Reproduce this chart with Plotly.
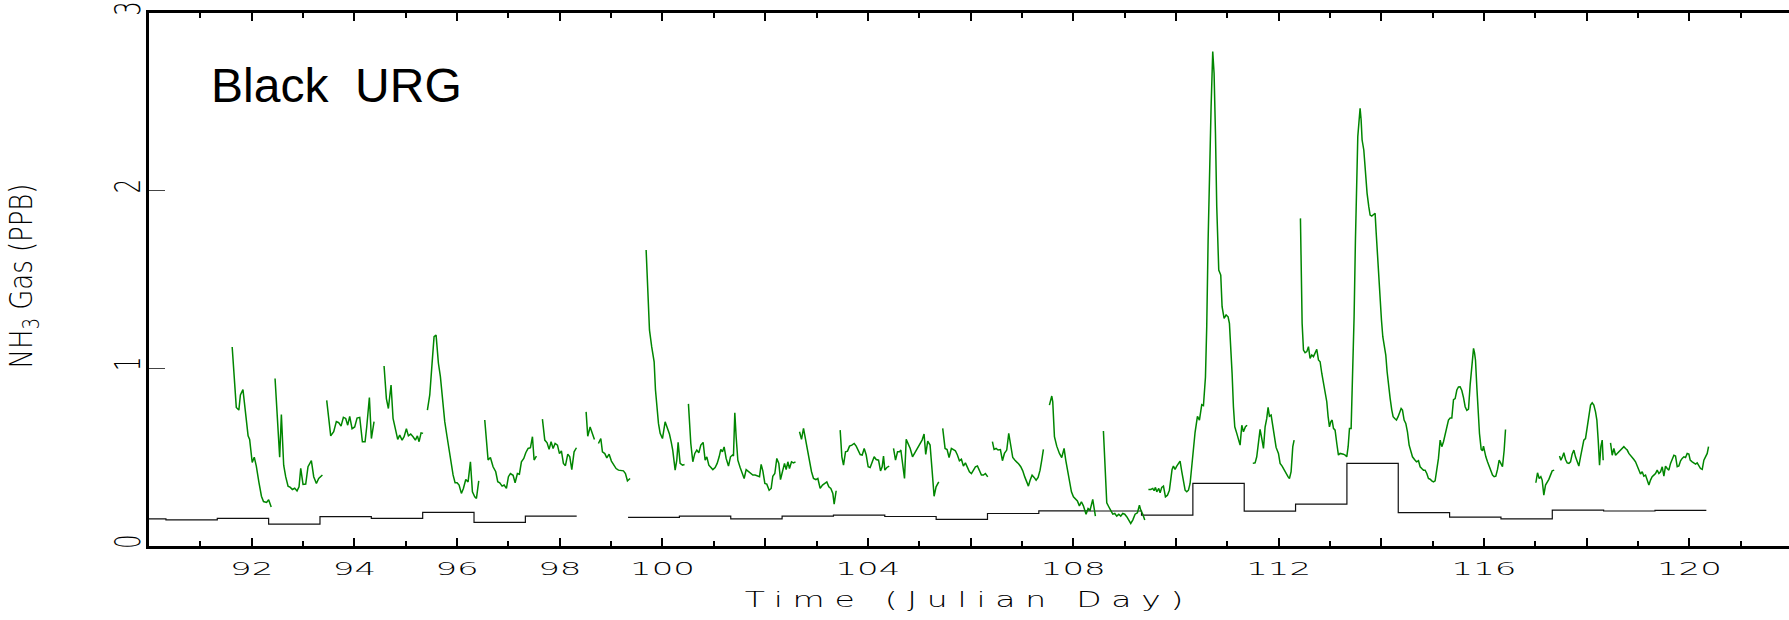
import plotly.graph_objects as go

# ---------------- data ----------------
# Hourly NH3 gas (green); None separates the gaps between record pieces
nh3_day = [
    91.62, 91.70, 91.75, 91.78, 91.83, 91.88, 91.93, 91.96, 92.01, 92.05, 92.09, 92.14, 92.19, 92.23, 92.29, 92.33, 92.38, None,
    92.455, 92.545, 92.578, 92.623, 92.662, 92.708, 92.753, 92.792, 92.838, 92.883, 92.922, 92.955, 93.0, 93.052, 93.097, 93.162, 93.208, 93.26, 93.305, 93.377, None,
    93.461, 93.539, 93.597, 93.649, 93.695, 93.740, 93.786, 93.831, 93.870, 93.909, 93.955, 94.006, 94.052, 94.104, 94.156, 94.208, 94.240, 94.292, 94.331, 94.383, None,
    94.578, 94.623, 94.662, 94.714, 94.753, 94.799, 94.844, 94.883, 94.929, 94.968, 95.013, 95.052, 95.097, 95.143, 95.188, 95.227, 95.26, 95.299, 95.338, None,
    95.422, 95.468, 95.513, 95.552, 95.591, 95.636, 95.675, 95.714, 95.760, 95.805, 95.844, 95.883, 95.922, 95.961, 96.0, 96.039, 96.084, 96.123, 96.169, 96.214, 96.260, 96.299, 96.344, 96.377, 96.422, None,
    96.539, 96.604, 96.649, 96.701, 96.753, 96.792, 96.831, 96.877, 96.916, 96.961, 97.0, 97.039, 97.091, 97.13, 97.175, 97.214, 97.253, 97.299, 97.338, 97.383, 97.429, 97.468, 97.50, 97.545, None,
    97.662, 97.708, 97.753, 97.792, 97.831, 97.870, 97.909, 97.955, 97.994, 98.032, 98.071, 98.110, 98.156, 98.195, 98.234, 98.279, 98.325, None,
    98.513, 98.545, 98.591, 98.636, 98.675, None,
    98.753, 98.799, 98.831, 98.877, 98.916, 98.961, 99.006, 99.052, 99.097, 99.143, 99.188, 99.240, 99.279, 99.318, 99.370, None,
    99.682, 99.714, 99.747, 99.79, 99.838, 99.864, 99.89, 99.922, 99.955, 100.0, 100.052, 100.097, 100.136, 100.169, 100.20, 100.247, 100.279, 100.305, 100.344, 100.39, 100.43, None,
    100.506, 100.552, 100.591, 100.63, 100.669, 100.708, 100.747, 100.792, 100.831, 100.864, 100.903, 100.942, 100.981, 101.026, 101.065, 101.104, 101.136, 101.169, 101.201, 101.24,
    101.286, 101.325, 101.364, 101.383, 101.409, 101.435, 101.468, 101.513, 101.552, 101.591, 101.63, 101.675, 101.721, 101.76, 101.805, 101.851, 101.89, 101.922, 101.955, 101.994,
    102.032, 102.078, 102.117, 102.149, 102.188, 102.227, 102.266, 102.299, 102.338, 102.377, 102.409, 102.442, 102.474, 102.513, 102.552, 102.591, None,
    102.669, 102.708, 102.747, 102.786, 102.825, 102.864, 102.903, 102.942, 102.987, 103.026, 103.071, 103.117, 103.156, 103.201, 103.24, 103.279, 103.318, 103.344, 103.383, None,
    103.461, 103.494, 103.526, 103.565, 103.604, 103.643, 103.688, 103.734, 103.773, 103.812, 103.851, 103.89, 103.929, 103.968, 104.006, 104.045, 104.084, 104.123, 104.162, 104.208,
    104.247, 104.279, 104.305, 104.331, 104.37, 104.416, None,
    104.5, 104.539, 104.578, 104.617, 104.643, 104.675, 104.714, 104.747, 104.786, 104.825, 104.87, 104.909, 104.955, 104.994, 105.032, 105.056, 105.095, 105.127, 105.166, 105.212,
    105.251, 105.29, 105.329, 105.381, None,
    105.458, 105.504, 105.543, 105.582, 105.627, 105.666, 105.705, 105.744, 105.783, 105.822, 105.861, 105.9, 105.939, 105.978, 106.017, 106.056, 106.095, 106.134, 106.173, 106.212,
    106.251, 106.29, 106.335, None,
    106.426, 106.458, 106.497, 106.536, 106.582, 106.621, 106.66, 106.705, 106.744, 106.783, 106.822, 106.861, 106.9, 106.939, 106.978, 107.017, 107.056, 107.095, 107.127, 107.16,
    107.199, 107.238, 107.277, 107.316, 107.354, 107.387, 107.419, None,
    107.536, 107.582, 107.601, 107.634, 107.679, 107.731, 107.776, 107.822, 107.854, 107.893, 107.926, 107.965, 108.004, 108.043, 108.081, 108.12, 108.159, 108.198, 108.25, 108.289,
    108.328, 108.38, 108.406, 108.432, None,
    108.588, 108.62, 108.653, 108.692, 108.731, 108.77, 108.809, 108.848, 108.887, 108.925, 108.964, 109.003, 109.042, 109.081, 109.12, 109.159, 109.205, 109.25, 109.289, 109.315,
    109.354, 109.393, None,
    109.464, 109.510, 109.549, 109.575, 109.601, 109.627, 109.666, 109.692, 109.724, 109.757, 109.796, 109.835, 109.873, 109.899, 109.925, 109.951, 109.983, 110.016, 110.049, 110.081,
    110.114, 110.146, 110.179, 110.211, 110.244, 110.276, 110.308, 110.341, 110.373, 110.419, 110.458, 110.503, 110.536, 110.575, 110.60, 110.627, 110.653, 110.685, 110.717, 110.743,
    110.77, 110.795, 110.834, 110.873, 110.899, 110.938, 110.977, 111.016, 111.042, 111.068, 111.094, 111.12, 111.146, 111.185, 111.218, 111.25, 111.283, 111.315, 111.354, 111.386, None,
    111.497, 111.542, 111.574, 111.607, 111.639, 111.672, 111.705, 111.737, 111.769, 111.795, 111.821, 111.854, 111.886, 111.919, 111.951, 111.997, 112.029, 112.068, 112.107, 112.146,
    112.185, 112.211, 112.243, 112.276, 112.302, None,
    112.425, 112.445, 112.458, 112.484, 112.516, 112.549, 112.581, 112.613, 112.646, 112.678, 112.711, 112.743, 112.776, 112.808, 112.841, 112.873, 112.906, 112.938, 112.964, 112.99,
    113.016, 113.042, 113.068, 113.1, 113.133, 113.165, 113.198, 113.23, 113.262, 113.295, 113.327, 113.354, 113.38, 113.412, 113.444, 113.47, 113.496, 113.522, 113.542, 113.568,
    113.587, 113.607, 113.626, 113.659, 113.691, 113.723, 113.756, 113.782, 113.814, 113.847, 113.879, 113.899, 113.925, 113.951, 113.977, 114.003, 114.029, 114.061, 114.087, 114.113,
    114.139, 114.172, 114.204, 114.23, 114.262, 114.295, 114.327, 114.354, 114.386, 114.412, 114.444, 114.477, 114.509, 114.542, 114.574, 114.607, 114.646, 114.685, 114.724, 114.756,
    114.788, 114.821, 114.853, 114.886, 114.918, 114.951, 114.983, 115.016, 115.048, 115.08, 115.113, 115.146, 115.178, 115.211, 115.243, 115.276, 115.308, 115.341, 115.373, 115.406,
    115.438, 115.471, 115.503, 115.535, 115.568, 115.601, 115.633, 115.666, 115.698, 115.731, 115.757, 115.783, 115.796, 115.815, 115.834, 115.86, 115.886, 115.912, 115.945, 115.971,
    115.99, 116.01, 116.036, 116.068, 116.101, 116.133, 116.166, 116.198, 116.23, 116.263, 116.295, 116.328, 116.36, 116.393, 116.419, None,
    117.01, 117.042, 117.075, 117.107, 117.133, 117.165, 117.198, 117.23, 117.263, 117.295, 117.328, 117.367, None,
    117.471, 117.497, 117.529, 117.555, 117.588, 117.62, 117.653, 117.685, 117.717, 117.75, 117.782, 117.815, 117.847, 117.88, 117.912, 117.944, 117.977, 118.01, 118.042, 118.075,
    118.107, 118.139, 118.172, 118.198, 118.224, 118.25, 118.276, 118.302, 118.321, None,
    118.464, 118.497, 118.529, 118.562, 118.594, 118.627, 118.659, 118.692, 118.724, 118.757, 118.789, 118.821, 118.854, 118.886, 118.919, 118.951, 118.984, 119.016, 119.048, 119.081,
    119.113, 119.146, 119.178, 119.211, 119.243, 119.275, 119.308, 119.34, 119.373, 119.406, 119.438, 119.471, 119.503, 119.535, 119.568, 119.6, 119.633, 119.665, 119.698, 119.73,
    119.763, 119.795, 119.828, 119.86, 119.892, 119.925, 119.957, 119.99, 120.016, 120.055, 120.087, 120.12, 120.152, 120.185, 120.217, 120.25, 120.282, 120.314, 120.347, 120.373,
]
nh3_ppb = [
    1.12, 0.78, 0.765, 0.85, 0.88, 0.73, 0.62, 0.60, 0.47, 0.50, 0.45, 0.36, 0.28, 0.25, 0.245, 0.26, 0.22, None,
    0.943, 0.50, 0.74, 0.455, 0.39, 0.337, 0.33, 0.318, 0.325, 0.31, 0.333, 0.437, 0.347, 0.349, 0.446, 0.48, 0.39, 0.352, 0.38, 0.40, None,
    0.82, 0.62, 0.643, 0.70, 0.694, 0.675, 0.724, 0.718, 0.68, 0.73, 0.66, 0.67, 0.72, 0.724, 0.587, 0.587, 0.67, 0.836, 0.605, 0.70, None,
    1.013, 0.83, 0.774, 0.906, 0.718, 0.66, 0.60, 0.624, 0.596, 0.615, 0.66, 0.62, 0.63, 0.615, 0.596, 0.62, 0.587, 0.637, 0.634, None,
    0.765, 0.85, 1.028, 1.178, 1.187, 1.03, 0.953, 0.82, 0.70, 0.615, 0.54, 0.455, 0.40, 0.356, 0.356, 0.343, 0.296, 0.324, 0.374, 0.361, 0.474, 0.305, 0.277, 0.268, 0.367, None,
    0.709, 0.484, 0.498, 0.446, 0.418, 0.362, 0.356, 0.337, 0.343, 0.324, 0.39, 0.408, 0.398, 0.356, 0.408, 0.404, 0.474, 0.493, 0.525, 0.549, 0.553, 0.615, 0.484, 0.506, None,
    0.714, 0.596, 0.581, 0.544, 0.587, 0.549, 0.577, 0.568, 0.52, 0.535, 0.465, 0.452, 0.517, 0.502, 0.43, 0.53, 0.553, None,
    0.755, 0.618, 0.67, 0.63, 0.60, None,
    0.577, 0.605, 0.53, 0.52, 0.496, 0.517, 0.478, 0.455, 0.436, 0.427, 0.427, 0.423, 0.408, 0.367, 0.38, None,
    1.666, 1.403, 1.216, 1.122, 1.037, 0.878, 0.784, 0.69, 0.634, 0.605, 0.699, 0.662, 0.63, 0.587, 0.54, 0.427, 0.483, 0.583, 0.465, 0.455, 0.459, None,
    0.80, 0.577, 0.474, 0.521, 0.54, 0.525, 0.568, 0.583, 0.483, 0.502, 0.455, 0.442, 0.43, 0.442, 0.465, 0.502, 0.544, 0.53, 0.558, 0.493,
    0.45, 0.502, 0.512, 0.506, 0.75, 0.615, 0.483, 0.442, 0.408, 0.38, 0.43, 0.418, 0.408, 0.399, 0.399, 0.393, 0.39, 0.459, 0.423, 0.352,
    0.348, 0.314, 0.324, 0.393, 0.408, 0.493, 0.465, 0.374, 0.418, 0.465, 0.43, 0.474, 0.436, 0.474, 0.468, 0.474, None,
    0.643, 0.60, 0.662, 0.596, 0.53, 0.465, 0.418, 0.38, 0.374, 0.38, 0.324, 0.343, 0.352, 0.361, 0.333, 0.324, 0.296, 0.236, 0.311, None,
    0.652, 0.502, 0.455, 0.53, 0.534, 0.562, 0.568, 0.577, 0.562, 0.54, 0.515, 0.512, 0.549, 0.512, 0.446, 0.442, 0.474, 0.502, 0.487, 0.483,
    0.423, 0.446, 0.506, 0.427, 0.442, 0.45, None,
    0.549, 0.483, 0.53, 0.53, 0.54, 0.465, 0.38, 0.60, 0.577, 0.549, 0.502, 0.521, 0.54, 0.558, 0.577, 0.596, 0.63, 0.515, 0.59, 0.568,
    0.427, 0.28, 0.333, 0.361, None,
    0.662, 0.549, 0.543, 0.498, 0.549, 0.54, 0.536, 0.512, 0.48, 0.488, 0.45, 0.468, 0.442, 0.418, 0.408, 0.427, 0.446, 0.45, 0.427, 0.399,
    0.399, 0.408, 0.389, None,
    0.587, 0.544, 0.549, 0.54, 0.543, 0.48, 0.521, 0.54, 0.634, 0.555, 0.498, 0.484, 0.474, 0.461, 0.446, 0.423, 0.389, 0.361, 0.337, 0.37,
    0.399, 0.386, 0.37, 0.386, 0.427, 0.484, 0.544, None,
    0.793, 0.844, 0.812, 0.615, 0.562, 0.521, 0.498, 0.549, 0.484, 0.418, 0.38, 0.305, 0.277, 0.268, 0.254, 0.226, 0.249, 0.226, 0.179, 0.211,
    0.202, 0.262, 0.211, 0.168, None,
    0.647, 0.408, 0.243, 0.221, 0.198, 0.179, 0.183, 0.168, 0.179, 0.168, 0.183, 0.179, 0.165, 0.142, 0.127, 0.146, 0.179, 0.187, 0.23, 0.202,
    0.179, 0.146, None,
    0.318, 0.318, 0.324, 0.311, 0.33, 0.305, 0.324, 0.30, 0.33, 0.337, 0.277, 0.286, 0.314, 0.37, 0.431, 0.45, 0.431, 0.45, 0.465, 0.478,
    0.418, 0.356, 0.314, 0.305, 0.314, 0.352, 0.45, 0.55, 0.64, 0.73, 0.709, 0.795, 0.79, 0.95, 1.234, 1.722, 2.135, 2.473, 2.783, 2.661,
    2.323, 1.91, 1.553, 1.525, 1.347, 1.281, 1.30, 1.29, 1.253, 1.122, 0.971, 0.784, 0.671, 0.634, 0.605, 0.568, 0.68, 0.643, 0.671, 0.68, None,
    0.465, 0.468, 0.502, 0.596, 0.656, 0.605, 0.549, 0.671, 0.718, 0.78, 0.731, 0.737, 0.671, 0.605, 0.555, 0.521, 0.465, 0.45, 0.427, 0.408,
    0.389, 0.38, 0.418, 0.559, 0.596, None,
    1.844, 1.534, 1.253, 1.103, 1.088, 1.094, 1.122, 1.056, 1.075, 1.066, 1.084, 1.107, 1.047, 1.037, 0.971, 0.915, 0.868, 0.812, 0.728, 0.671,
    0.699, 0.709, 0.662, 0.652, 0.577, 0.512, 0.521, 0.521, 0.517, 0.512, 0.502, 0.559, 0.662, 0.662, 0.971, 1.29, 1.722, 2.098, 2.304, 2.398,
    2.464, 2.398, 2.285, 2.229, 2.098, 1.985, 1.91, 1.863, 1.857, 1.863, 1.873, 1.769, 1.628, 1.497, 1.384, 1.272, 1.178, 1.122, 1.075, 0.981,
    0.906, 0.831, 0.765, 0.728, 0.718, 0.709, 0.728, 0.755, 0.774, 0.765, 0.709, 0.69, 0.643, 0.568, 0.54, 0.502, 0.487, 0.474, 0.48, 0.446,
    0.436, 0.427, 0.427, 0.408, 0.38, 0.376, 0.367, 0.361, 0.367, 0.418, 0.493, 0.596, 0.559, 0.587, 0.624, 0.671, 0.709, 0.72, 0.72, 0.824,
    0.83, 0.878, 0.895, 0.896, 0.875, 0.835, 0.784, 0.763, 0.77, 0.91, 1.009, 1.084, 1.112, 1.088, 1.047, 0.897, 0.746, 0.633, 0.544, 0.536,
    0.562, 0.53, 0.502, 0.474, 0.446, 0.418, 0.399, 0.39, 0.393, 0.431, 0.484, 0.465, 0.446, 0.54, 0.656, None,
    0.356, 0.412, 0.38, 0.39, 0.371, 0.286, 0.343, 0.356, 0.375, 0.399, 0.423, 0.427, None,
    0.506, 0.483, 0.502, 0.525, 0.487, 0.468, 0.465, 0.474, 0.517, 0.54, 0.502, 0.474, 0.45, 0.502, 0.559, 0.596, 0.605, 0.671, 0.755, 0.793,
    0.806, 0.793, 0.755, 0.709, 0.596, 0.455, 0.559, 0.596, 0.483, None,
    0.581, 0.511, 0.549, 0.511, 0.521, 0.53, 0.54, 0.549, 0.559, 0.549, 0.54, 0.521, 0.511, 0.502, 0.487, 0.474, 0.45, 0.427, 0.405, 0.418,
    0.393, 0.399, 0.371, 0.343, 0.371, 0.39, 0.399, 0.408, 0.427, 0.408, 0.418, 0.446, 0.393, 0.45, 0.436, 0.427, 0.465, 0.487, 0.511, 0.506,
    0.446, 0.45, 0.48, 0.493, 0.502, 0.498, 0.521, 0.517, 0.483, 0.474, 0.465, 0.461, 0.468, 0.45, 0.436, 0.431, 0.483, 0.502, 0.521, 0.559,
]

# Daily filter (denuder) averages, black step line: start day, end day, value
filter_start = [90.0, 90.33, 91.33, 92.33, 93.33, 94.33, 95.33, 96.33, 97.33,
                99.33, 100.33, 101.33, 102.33, 103.33, 104.33, 105.33, 106.33, 107.33, 108.33, 109.33,
                110.33, 111.33, 112.33, 113.33, 114.33, 115.33, 116.33, 117.33, 118.33, 119.33]
filter_end = [90.33, 91.33, 92.33, 93.33, 94.33, 95.33, 96.33, 97.33, 98.33,
              100.33, 101.33, 102.33, 103.33, 104.33, 105.33, 106.33, 107.33, 108.33, 109.33, 110.33,
              111.33, 112.33, 113.33, 114.33, 115.33, 116.33, 117.33, 118.33, 119.33, 120.33]
filter_ppb = [0.153, 0.147, 0.156, 0.123, 0.165, 0.155, 0.189, 0.133, 0.168,
              0.161, 0.168, 0.153, 0.168, 0.174, 0.166, 0.150, 0.183, 0.198, 0.197, 0.174,
              0.352, 0.196, 0.236, 0.465, 0.188, 0.162, 0.153, 0.202, 0.197, 0.200]

tick_days = [90, 92, 94, 96, 98, 100, 102, 104, 106, 108, 110, 112, 114, 116, 118, 120, 122]
tick_labels = ["", "92", "94", "96", "98", "100", "", "104", "", "108", "", "112", "", "116", "", "120", ""]
y_ticks = [0, 1, 2, 3]

# ---------------- build step path from the filter samples ----------------
step_x, step_y = [], []
for i, (s, e, v) in enumerate(zip(filter_start, filter_end, filter_ppb)):
    if i > 0 and abs(s - filter_end[i - 1]) > 1e-6:
        step_x += [filter_end[i - 1], None]
        step_y += [filter_ppb[i - 1], None]
    step_x.append(s)
    step_y.append(v)
step_x.append(filter_end[-1])
step_y.append(filter_ppb[-1])

LABEL_FONT = "DejaVu Sans"

fig = go.Figure()
fig.add_trace(go.Scatter(x=step_x, y=step_y, mode="lines", line_shape="hv",
                         line=dict(color="#111111", width=1.2), connectgaps=False,
                         hoverinfo="skip", showlegend=False))
fig.add_trace(go.Scatter(x=nh3_day, y=nh3_ppb, mode="lines",
                         line=dict(color="#008600", width=1.5), connectgaps=False,
                         showlegend=False))

fig.update_layout(
    width=1789, height=620,
    margin=dict(l=149, r=0, t=13, b=74, pad=0),
    paper_bgcolor="white", plot_bgcolor="white",
    xaxis=dict(
        range=[90, 121.94], showgrid=False, zeroline=False,
        showline=True, linewidth=2.5, linecolor="black", mirror="allticks",
        ticks="inside", ticklen=8, tickwidth=1.5, tickcolor="black",
        tickvals=tick_days, ticktext=tick_labels,
        tickfont=dict(family=LABEL_FONT, size=17, color="black", weight=300),
        ticklabelstandoff=6,
        minor=dict(ticks="inside", ticklen=5, tickwidth=1.5, tickcolor="black", dtick=1, tick0=90, showgrid=False),
        title=dict(text="Time (Julian Day)", font=dict(family=LABEL_FONT, size=22, color="black", weight=300), standoff=14),
    ),
    yaxis=dict(
        range=[0, 3], showgrid=False, zeroline=False,
        showline=True, linewidth=3, linecolor="black",
        ticks="inside", ticklen=16, tickwidth=1.2, tickcolor="#444444",
        tickvals=y_ticks, tickangle=-90, ticklabeloverflow="allow",
        tickfont=dict(family=LABEL_FONT, size=30, color="black", weight=300),
        ticklabelstandoff=0,
        title=dict(text="NH<sub>3</sub> Gas (PPB)", font=dict(family=LABEL_FONT, size=36, color="black", weight=300), standoff=36),
    ),
    yaxis2=dict(
        range=[0, 3], overlaying="y", side="right", showgrid=False, zeroline=False,
        showline=False, ticks="inside", ticklen=14, tickwidth=1.2, tickcolor="#444444",
        tickvals=y_ticks, showticklabels=False,
    ),
    annotations=[dict(
        text="Black\u00a0 URG", xref="paper", yref="paper", x=0.0363, y=0.864,
        xanchor="left", yanchor="middle", showarrow=False,
        font=dict(family="Liberation Sans, Arial", size=48, color="black"),
    )],
)

post = r"""
document.body.style.margin = '0';
var gd = document.getElementById('{plot_id}');
function fit(el, sx, sy, ls) {
  var b0 = el.getBBox();
  var cx = b0.x + b0.width / 2, cy = b0.y + b0.height / 2;
  if (ls) { el.style.letterSpacing = ls + 'px'; }
  var b1 = el.getBBox();
  var cx1 = b1.x + b1.width / 2, cy1 = b1.y + b1.height / 2;
  var t = el.getAttribute('transform') || '';
  el.setAttribute('transform', t + ' translate(' + cx + ',' + cy + ') scale(' + sx + ',' + sy + ') translate(' + (-cx1) + ',' + (-cy1) + ')');
}
function shift(el, dx, dy) {
  el.setAttribute('transform', 'translate(' + dx + ',' + dy + ') ' + (el.getAttribute('transform') || ''));
}
function centerAt(el, tx, ty) {
  var r = el.getBoundingClientRect(), g = gd.getBoundingClientRect();
  var cx = r.left - g.left + r.width / 2, cy = r.top - g.top + r.height / 2;
  shift(el, tx - cx, ty - cy);
}
gd.querySelectorAll('.xtick text').forEach(function (e) { fit(e, 2.0, 1, 0); });
gd.querySelectorAll('.ytick text').forEach(function (e) { fit(e, 0.75, 1.2, 0); shift(e, 4, 0); });
var yt = gd.querySelector('.ytitle'); if (yt) { fit(yt, 0.72, 0.9, 0); centerAt(yt, 23, 276); }
var xt = gd.querySelector('.xtitle'); if (xt) { fit(xt, 1.5, 1, 6.5); }
"""

fig.write_html("out.html", post_script=post, config={"displayModeBar": False})
